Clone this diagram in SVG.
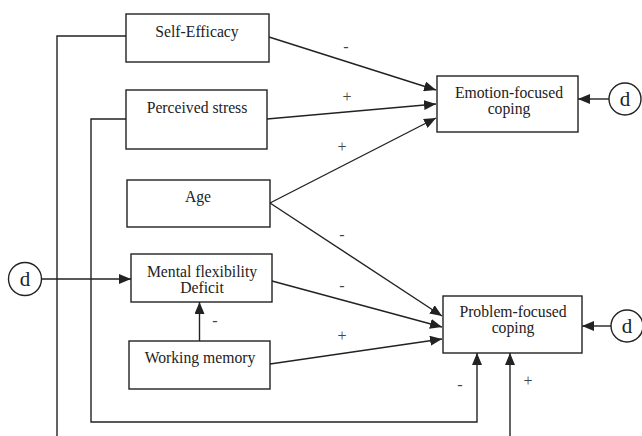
<svg xmlns="http://www.w3.org/2000/svg" width="642" height="436" viewBox="0 0 642 436">
<style>
.box{fill:#fff;stroke:#222;stroke-width:1.4}
.t{font-family:"Liberation Serif",serif;font-size:15.7px;fill:#222;text-anchor:middle}
.d{font-family:"Liberation Serif",serif;font-size:21px;fill:#222;text-anchor:middle}
.s{font-family:"Liberation Serif",serif;font-size:16px;fill:#444;text-anchor:middle}
.c{fill:none;stroke:#222;stroke-width:1.4}
.a{marker-end:url(#ah)}
</style>
<defs>
<marker id="ah" markerUnits="userSpaceOnUse" markerWidth="12" markerHeight="10" viewBox="0 0 12 10" refX="12" refY="5" orient="auto">
<path d="M0,0 L12,5 L0,10 Z" fill="#222"/>
</marker>
</defs>
<g id="connectors">
<polyline class="c" points="126,36 57,36 57,436"/>
<polyline class="c a" points="126,119 91,119 91,422 477,422 477,353"/>
<line class="c a" x1="510" y1="436" x2="510" y2="353"/>
<line class="c a" x1="269" y1="37" x2="436" y2="90"/>
<line class="c a" x1="267" y1="119" x2="436" y2="104"/>
<line class="c a" x1="270" y1="203" x2="436" y2="118"/>
<line class="c a" x1="270" y1="203" x2="442" y2="316"/>
<line class="c a" x1="272" y1="281" x2="442" y2="327"/>
<line class="c a" x1="270" y1="364" x2="442" y2="339"/>
<line class="c a" x1="199.5" y1="341" x2="199.5" y2="302"/>
<line class="c a" x1="42" y1="279" x2="131" y2="279"/>
<line class="c a" x1="609" y1="99" x2="578" y2="99"/>
<line class="c a" x1="611" y1="326" x2="582" y2="326"/>
<text class="s" x="346" y="52">-</text>
<text class="s" x="347" y="102">+</text>
<text class="s" x="342" y="152">+</text>
<text class="s" x="342" y="240">-</text>
<text class="s" x="342" y="291">-</text>
<text class="s" x="342" y="341">+</text>
<text class="s" x="215" y="326">-</text>
<text class="s" x="460" y="390">-</text>
<text class="s" x="528" y="386">+</text>
</g>
<g id="self-efficacy"><rect class="box" x="126" y="14" width="143" height="48"/><text class="t" x="197" y="37">Self-Efficacy</text></g>
<g id="perceived-stress"><rect class="box" x="126" y="90" width="141" height="59"/><text class="t" x="197" y="113">Perceived stress</text></g>
<g id="age"><rect class="box" x="127" y="180" width="143" height="47"/><text class="t" x="198" y="202">Age</text></g>
<g id="mental-flexibility"><rect class="box" x="131" y="254" width="141" height="48"/><text class="t" x="202" y="277">Mental flexibility</text><text class="t" x="202" y="293">Deficit</text></g>
<g id="working-memory"><rect class="box" x="129" y="341" width="141" height="48"/><text class="t" x="200" y="363">Working memory</text></g>
<g id="emotion-focused"><rect class="box" x="437" y="76" width="141" height="56"/><text class="t" x="509" y="98">Emotion-focused</text><text class="t" x="509" y="114">coping</text></g>
<g id="problem-focused"><rect class="box" x="443" y="296" width="139" height="57"/><text class="t" x="513" y="317">Problem-focused</text><text class="t" x="513" y="333">coping</text></g>
<g id="d-left"><circle class="box" cx="25" cy="279" r="16.5"/><text class="d" x="25" y="286">d</text></g>
<g id="d-emotion"><circle class="box" cx="625" cy="99" r="16"/><text class="d" x="625" y="106">d</text></g>
<g id="d-problem"><circle class="box" cx="627" cy="326" r="16"/><text class="d" x="627" y="333">d</text></g>
</svg>
